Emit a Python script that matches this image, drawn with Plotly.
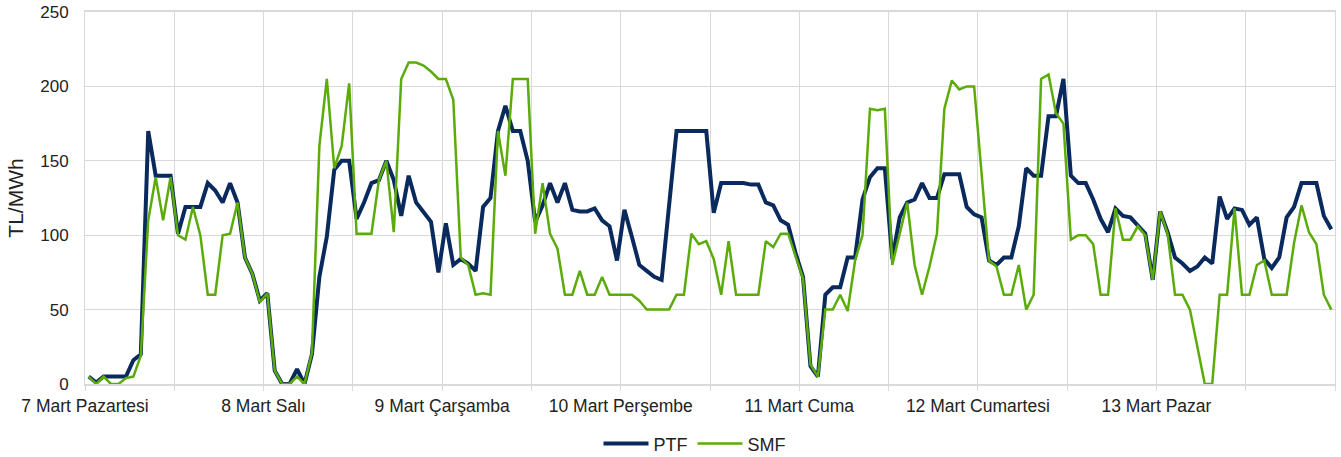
import plotly.graph_objects as go

day_labels = ["7 Mart Pazartesi", "8 Mart Salı", "9 Mart Çarşamba", "10 Mart Perşembe",
              "11 Mart Cuma", "12 Mart Cumartesi", "13 Mart Pazar"]

ptf = [5, 1, 5, 5, 5, 5, 16, 20,
       170, 140, 140, 140, 101, 119, 119, 119,
       135, 130, 122, 135, 122, 85, 74, 56,
       61, 9, 0, 0, 10, 0, 20, 72,
       99, 144, 150, 150, 111, 122, 135, 137,
       150, 137, 113, 140, 122, 115, 109, 75,
       108, 80, 84, 81, 76, 119, 125, 170,
       187, 170, 170, 150, 109, 120, 135, 122,
       135, 117, 116, 116, 118, 110, 106, 83,
       117, 99, 80, 76, 72, 70, 120, 170,
       170, 170, 170, 170, 115, 135, 135, 135,
       135, 134, 134, 122, 120, 110, 107, 88,
       72, 12, 5, 60, 65, 65, 85, 85,
       124, 139, 145, 145, 84, 112, 122, 124,
       135, 125, 125, 141, 141, 141, 119, 114,
       112, 83, 80, 85, 85, 106, 145, 140,
       140, 180, 180, 205, 140, 135, 135, 124,
       111, 102, 118, 113, 112, 106, 101, 70,
       116, 102, 85, 81, 76, 79, 85, 81,
       126, 111, 118, 117, 107, 112, 84, 78,
       85, 112, 119, 135, 135, 135, 113, 104]

smf = [5, 0, 5, 0, 0, 4, 5, 19,
       110, 139, 110, 139, 100, 97, 119, 100,
       60, 60, 100, 101, 122, 85, 74, 55,
       61, 9, 0, 0, 5, 0, 21, 160,
       205, 145, 160, 202, 101, 101, 101, 137,
       150, 102, 205, 216, 216, 214, 210, 205,
       205, 191, 85, 80, 60, 61, 60, 170,
       140, 205, 205, 205, 101, 135, 101, 91,
       60, 60, 76, 60, 60, 72, 60, 60,
       60, 60, 56, 50, 50, 50, 50, 60,
       60, 101, 94, 96, 84, 60, 96, 60,
       60, 60, 60, 96, 92, 101, 101, 86,
       71, 13, 5, 50, 50, 60, 49, 83,
       100, 185, 184, 185, 80, 101, 122, 80,
       60, 79, 101, 185, 204, 198, 200, 200,
       140, 83, 79, 60, 60, 80, 50, 60,
       205, 208, 182, 175, 97, 100, 100, 94,
       60, 60, 118, 97, 97, 106, 100, 70,
       116, 101, 60, 60, 50, 25, 0, 0,
       60, 60, 118, 60, 60, 80, 83, 60,
       60, 60, 95, 120, 102, 94, 60, 50]

hours = [i + 0.5 for i in range(len(ptf))]

tickvals = list(range(0, 169, 12))
ticktext = []
for v in tickvals:
    d = v // 24
    ticktext.append(day_labels[d] if v % 24 == 0 and d < len(day_labels) else "")

FONT = "Liberation Sans, Arial, sans-serif"
GRID = "#D9D9D9"

fig = go.Figure()
fig.add_trace(go.Scatter(x=hours, y=ptf, mode="lines", name="PTF",
                         line=dict(color="#0A2A5E", width=4)))
fig.add_trace(go.Scatter(x=hours, y=smf, mode="lines", name="SMF",
                         line=dict(color="#5BAB0A", width=2.5)))

fig.update_layout(
    width=1341, height=480,
    margin=dict(l=85, r=6, t=12, b=96),
    paper_bgcolor="white", plot_bgcolor="white",
    font=dict(family=FONT, size=17, color="#222222"),
    showlegend=True,
    legend=dict(orientation="h", x=0.488, xanchor="center", y=-0.161, yanchor="middle",
                font=dict(size=18), itemwidth=45),
    xaxis=dict(range=[0, 168], tickvals=tickvals, ticktext=ticktext,
               showgrid=True, gridcolor=GRID, gridwidth=1,
               showline=True, linecolor=GRID, linewidth=1.5, mirror=True,
               ticks="outside", ticklen=5, tickcolor=GRID, automargin=False,
               zeroline=False, tickfont=dict(size=17.5)),
    yaxis=dict(range=[0, 250], dtick=50, showgrid=True, gridcolor=GRID, gridwidth=1,
               showline=True, linecolor=GRID, linewidth=1, mirror=True,
               ticks="outside", ticklen=12, tickcolor="rgba(0,0,0,0)", automargin=False,
               zeroline=False, tickfont=dict(size=17),
               title=dict(text="TL/MWh", font=dict(size=21), standoff=10)),
)

fig.write_html("out.html",
               config={"displayModeBar": False},
               post_script="document.body.style.margin='0px';"
                           "document.body.style.overflow='hidden';")
